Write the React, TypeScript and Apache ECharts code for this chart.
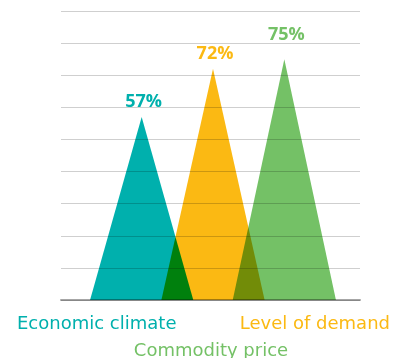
import React, { useEffect, useRef } from 'react';
import * as echarts from 'echarts';

const categories = ['Economic climate', 'Level of demand', 'Commodity price'];
const values = [57, 72, 75];
const colors = ['#00b0ad', '#fbb913', '#74c166'];
const yMin = 0;
const yMax = 90;
const yInterval = 10;

export default function App() {
  const ref = useRef<HTMLDivElement>(null);
  useEffect(() => {
    if (!ref.current) return;
    const chart = echarts.init(ref.current, undefined, { renderer: 'svg' });
    const textFont = { fontSize: 18, fontFamily: 'DejaVu Sans' };
    chart.setOption({
      animation: false,
      grid: [
        { left: 61, right: 46, top: 11, bottom: 58 },
        { left: 106, right: 86, top: 11, bottom: 58 },
      ],
      xAxis: [
        {
          gridIndex: 0,
          type: 'category',
          data: [''],
          axisLine: { show: true, lineStyle: { color: '#a6a6a6', width: 2 } },
          axisTick: { show: false },
          axisLabel: { show: false },
          splitLine: { show: false },
        },
        { gridIndex: 1, type: 'category', data: categories, show: false },
      ],
      yAxis: [
        {
          gridIndex: 0,
          type: 'value',
          min: yMin,
          max: yMax,
          interval: yInterval,
          axisLabel: { show: false },
          axisLine: { show: false },
          axisTick: { show: false },
          splitLine: { lineStyle: { color: '#cfcfcf', width: 1 } },
        },
        { gridIndex: 1, type: 'value', min: yMin, max: yMax, show: false },
      ],
      series: [
        {
          type: 'pictorialBar',
          xAxisIndex: 1,
          yAxisIndex: 1,
          symbol: 'triangle',
          symbolSize: [103, '100%'],
          z: 5,
          label: {
            show: true,
            position: 'top',
            formatter: '{c}%',
            fontSize: 18,
            fontWeight: 'bold',
            fontFamily: 'Open Sans',
            offset: [2, 0],
          },
          data: values.map((v, i) => ({
            value: v,
            itemStyle: { color: colors[i] },
            label: { color: colors[i], distance: i === 2 ? 17 : 8 },
          })),
        },
      ],
      graphic: [
        {
          type: 'text',
          x: 17,
          y: 322.5,
          style: { text: categories[0], fill: colors[0], ...textFont, align: 'left', verticalAlign: 'middle', textAlign: 'left', textVerticalAlign: 'middle' },
        },
        {
          type: 'text',
          x: 390,
          y: 322.5,
          style: { text: categories[1], fill: colors[1], ...textFont, align: 'right', verticalAlign: 'middle', textAlign: 'right', textVerticalAlign: 'middle' },
        },
        {
          type: 'text',
          x: 211,
          y: 349,
          style: { text: categories[2], fill: colors[2], ...textFont, align: 'center', verticalAlign: 'middle', textAlign: 'center', textVerticalAlign: 'middle' },
        },
      ],
    });
    return () => chart.dispose();
  }, []);
  return (
    <>
      <style>{'#chart path { mix-blend-mode: multiply; }'}</style>
      <div
        id="chart"
        ref={ref}
        style={{ position: 'fixed', left: 0, top: 0, width: 406, height: 358 }}
      />
    </>
  );
}
